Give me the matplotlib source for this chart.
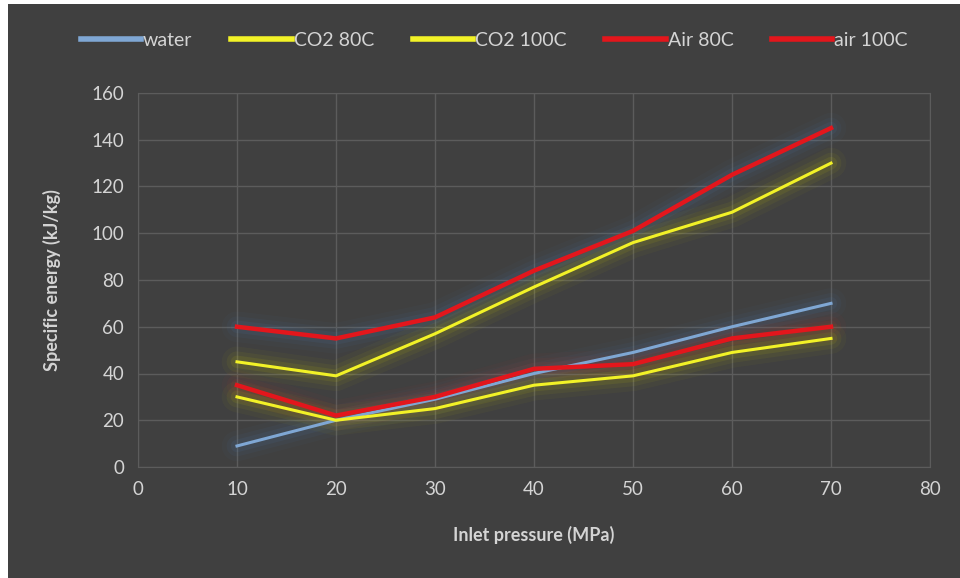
import matplotlib
matplotlib.use("Agg")
import matplotlib.pyplot as plt
from matplotlib.patches import Rectangle

plt.rcParams['font.family'] = ['Lato', 'DejaVu Sans']

# inlet pressure (MPa)
pressure = [10, 20, 30, 40, 50, 60, 70]

# specific energy (kJ/kg) per series
water = [9, 20, 29, 40, 49, 60, 70]
co2_80 = [30, 20, 25, 35, 39, 49, 55]
co2_100 = [45, 39, 57, 77, 96, 109, 130]
air_80 = [35, 22, 30, 42, 44, 55, 60]
air_100 = [60, 55, 64, 84, 101, 125, 145]

series_names = ["water", "CO2 80C", "CO2 100C", "Air 80C", "air 100C"]
series_values = [water, co2_80, co2_100, air_80, air_100]
series_colors = ["#7fa7d4", "#f2f227", "#f2f227", "#e3161c", "#e3161c"]
glow_colors = ["#4f81bd", "#d8d800", "#d8d800", "#c0392b", "#4f81bd"]
series_widths = [2.2, 2.2, 2.2, 3.2, 3.2]

bg = "#404040"
txt = "#d4d4d4"

fig = plt.figure(figsize=(9.6, 5.78), dpi=100, facecolor=bg)
# white strip at left/top edge of the screenshot
fig.patches.append(Rectangle((0, 0), 8 / 960, 1, transform=fig.transFigure,
                             facecolor="white", edgecolor="none", zorder=0))
fig.patches.append(Rectangle((0, 1 - 4 / 578), 1, 4 / 578, transform=fig.transFigure,
                             facecolor="white", edgecolor="none", zorder=0))

ax = fig.add_axes([138 / 960, (578 - 467) / 578, (930 - 138) / 960, (467 - 93) / 578])
ax.set_facecolor(bg)

# soft glow under each line
for vals, gc in zip(series_values, glow_colors):
    for w, a in [(22, 0.04), (15, 0.06), (9, 0.09)]:
        ax.plot(pressure, vals, color=gc, lw=w, alpha=a, solid_capstyle="round",
                solid_joinstyle="round", zorder=2)

for name, vals, c, w in zip(series_names, series_values, series_colors, series_widths):
    ax.plot(pressure, vals, color=c, lw=w, label=name, zorder=3)

ax.set_xlim(0, 80)
ax.set_ylim(0, 160)
ax.set_xticks(range(0, 81, 10))
ax.set_yticks(range(0, 161, 20))
ax.grid(True, color="#5c5c5c", lw=1)
ax.set_axisbelow(True)
for s in ax.spines.values():
    s.set_color("#5c5c5c")
ax.tick_params(colors=txt, labelsize=13.5, length=0, pad=10)

ax.set_xlabel("Inlet pressure (MPa)", color=txt, fontsize=13, fontweight="bold", labelpad=20)
ax.set_ylabel("Specific energy (kJ/kg)", color=txt, fontsize=13, fontweight="bold", labelpad=22)

leg = fig.legend(loc="upper center", bbox_to_anchor=(0.515, 0.975), ncol=5, frameon=False,
                 fontsize=14, handlelength=3.1, handletextpad=0.1, columnspacing=2.0)
for t in leg.get_texts():
    t.set_color(txt)
for h in leg.get_lines():
    h.set_linewidth(4)

fig.savefig("out.png", dpi=100, facecolor=fig.get_facecolor())
